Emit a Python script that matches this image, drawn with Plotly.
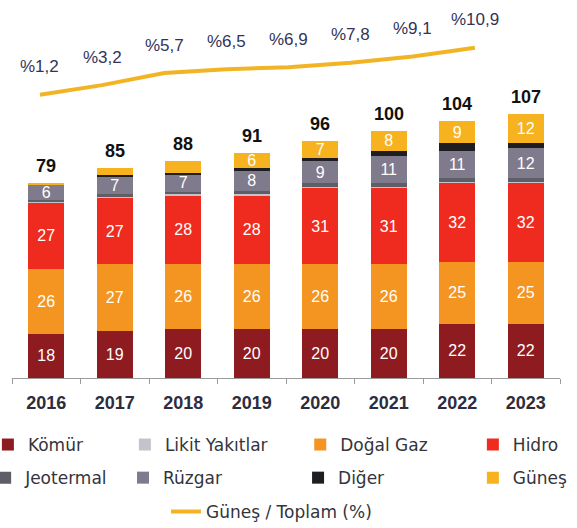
import plotly.graph_objects as go

years = ["2016", "2017", "2018", "2019", "2020", "2021", "2022", "2023"]
komur = [18, 19, 20, 20, 20, 20, 22, 22]
dogal_gaz = [26, 27, 26, 26, 26, 26, 25, 25]
hidro = [27, 27, 28, 28, 31, 31, 32, 32]
likit = [0.3, 0.3, 0.3, 0.3, 0.3, 0.3, 0.3, 0.3]
jeotermal = [0.7, 1.1, 1.2, 1.5, 1.6, 1.7, 1.7, 1.7]
ruzgar = [6, 7, 7, 8, 9, 11, 11, 12]
diger = [0.0, 0.6, 0.5, 1.2, 1.1, 2.0, 3.0, 2.0]
gunes = [1, 3, 5, 6, 7, 8, 9, 12]
gunes_labels = ["", "", "", "6", "7", "8", "9", "12"]
totals = [79, 85, 88, 91, 96, 100, 104, 107]
gunes_share = [1.2, 3.2, 5.7, 6.5, 6.9, 7.8, 9.1, 10.9]

FONT = "Arial, Liberation Sans, sans-serif"
LEG_FONT = dict(size=17, color="#34343c", family="DejaVu Sans, sans-serif")

# stacking order bottom -> top; each entry gets its own legend box (x, y in paper)
series = [
    ("Kömür", komur, "#8e1b1f", [str(v) for v in komur], "legend", -0.044, -0.182),
    ("Doğal Gaz", dogal_gaz, "#f39520", [str(v) for v in dogal_gaz], "legend3", 0.526, -0.182),
    ("Hidro", hidro, "#ef2b1f", [str(v) for v in hidro], "legend4", 0.841, -0.182),
    ("Likit Yakıtlar", likit, "#c3c3cb", None, "legend2", 0.206, -0.182),
    ("Jeotermal", jeotermal, "#5e5f66", None, "legend5", -0.049, -0.272),
    ("Rüzgar", ruzgar, "#7f7a8c", [str(v) for v in ruzgar], "legend6", 0.2026, -0.272),
    ("Diğer", diger, "#1e1e22", None, "legend7", 0.522, -0.272),
    ("Güneş", gunes, "#f6b21f", gunes_labels, "legend8", 0.841, -0.272),
]

fig = go.Figure()
legends = {}
for name, vals, color, labels, leg, lx, ly in series:
    fig.add_trace(go.Bar(
        x=years, y=vals, name=name, showlegend=False,
        marker=dict(color=color, line=dict(width=0)),
        text=labels, textposition="inside" if labels else "none",
        insidetextanchor="middle", textangle=0,
        textfont=dict(color="white", size=16, family=FONT),
        hoverinfo="name+y",
    ))
    # legend-only square marker for this series
    fig.add_trace(go.Scatter(
        x=[None], y=[None], name=name, mode="markers",
        marker=dict(symbol="square", size=12, color=color),
        legend=leg, hoverinfo="skip",
    ))
    legends[leg] = dict(x=lx, y=ly, xanchor="left", yanchor="middle",
                        orientation="h", font=LEG_FONT, bgcolor="rgba(0,0,0,0)")

fig.add_trace(go.Scatter(
    x=[int(y) for y in years], y=gunes_share, name="Güneş / Toplam (%)",
    mode="lines", line=dict(color="#f2b424", width=4),
    xaxis="x2", yaxis="y2", legend="legend9",
))
legends["legend9"] = dict(x=0.281, y=-0.364, xanchor="left", yanchor="middle",
                          orientation="h", font=LEG_FONT, bgcolor="rgba(0,0,0,0)")

for i, tot in enumerate(totals):
    fig.add_annotation(x=i, y=tot, text=f"<b>{tot}</b>", showarrow=False,
                       yanchor="bottom", yshift=5,
                       font=dict(size=18, color="#111", family=FONT))

for yr, pct in zip(years, gunes_share):
    fig.add_annotation(x=int(yr), y=pct, xref="x2", yref="y2",
                       text="%" + f"{pct:.1f}".replace(".", ","),
                       showarrow=False, yshift=28,
                       font=dict(size=17, color="#33335a", family=FONT))

fig.update_layout(
    width=577, height=528,
    margin=dict(l=12, r=17, t=10, b=150, autoexpand=False),
    barmode="stack", bargap=0.47,
    plot_bgcolor="white", paper_bgcolor="white",
    font=dict(family=FONT),
    showlegend=True,
    uniformtext=dict(minsize=16, mode="show"),
    xaxis=dict(
        type="category", range=[-0.5, 7.5], automargin=False,
        showline=True, linecolor="#9a9a9a", linewidth=1,
        ticks="outside", tickcolor="#9a9a9a", ticklen=5,
        tickson="boundaries", showgrid=False, ticklabelstandoff=8,
        tickfont=dict(size=18, color="#2d2d3d", family=FONT),
        tickprefix="<b>", ticksuffix="</b>",
    ),
    yaxis=dict(range=[0, 149], visible=False),
    xaxis2=dict(overlaying="x", range=[2015.55, 2024.37], visible=False),
    yaxis2=dict(overlaying="y", range=[-57.2, 18.7], visible=False),
    **legends,
)

# drop the page's default body margin so the 577x528 figure fills the window
fig.write_html("out.html", config={"displayModeBar": False},
               post_script="document.body.style.margin = '0';")
